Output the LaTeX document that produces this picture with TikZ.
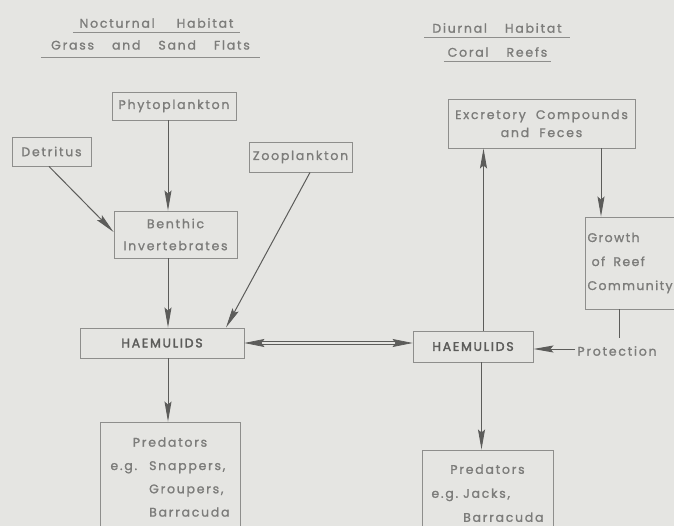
\documentclass[tikz,border=0pt]{standalone}
\usepackage{fontspec}
\setmainfont[LetterSpace=14,FakeBold=1.2]{Poppins}
\usepackage{tikz}
\usetikzlibrary{arrows.meta,calc,positioning}
\definecolor{paper}{HTML}{E5E5E2}
\definecolor{ink}{HTML}{7C7C7A}
\definecolor{edge}{HTML}{8E8E8C}
\definecolor{wire}{HTML}{5C5C5A}
\newcommand{\wgap}{\hspace{18pt}}

\begin{document}
\begin{tikzpicture}[x=1pt,y=-1pt,
  box/.style={draw=edge,line width=0.9pt,align=center,inner sep=0pt,
              text=ink,font=\fontsize{12.5}{18}\selectfont},
  fish/.style={box,text=wire,font=\fontsize{12.5}{14}\selectfont\addfontfeature{FakeBold=2.2}},
  arr/.style={wire,line width=1pt,-{Stealth[length=20pt,width=7pt,inset=3pt]}},
  twin/.style={wire,line width=0.7pt,double=paper,double distance=2.6pt,
               {Stealth[length=20pt,width=8pt,inset=3pt]}-{Stealth[length=20pt,width=8pt,inset=3pt]}},
  head/.style={inner sep=0pt,text=ink,font=\fontsize{12.5}{14}\selectfont},
  uline/.style={edge,line width=1pt}]
  \clip (0,0) rectangle (674,526);
  \fill[paper] (0,0) rectangle (674,526);
  % headings
  \node[head,minimum width=167,minimum height=18] (hn1) at (156.5,23) {Nocturnal\hspace{22pt}Habitat};
  \node[head,minimum width=219,minimum height=24] (hn2) at (150.5,45) {Grass\wgap and\wgap Sand\wgap Flats};
  \node[head,minimum width=145,minimum height=18] (hd1) at (497,28) {Diurnal\wgap Habitat};
  \node[head,minimum width=107,minimum height=18] (hd2) at (497.5,52) {Coral\wgap Reefs};
  \draw[uline] (hn1.south west) -- (hn1.south east);
  \draw[uline] (hn2.south west) -- (hn2.south east);
  \draw[uline] (hd1.south west) -- (hd1.south east);
  \draw[uline] (hd2.south west) -- (hd2.south east);
  % nocturnal side
  \node[box,minimum width=124,minimum height=28] (phyto) at (174,106) {Phytoplankton};
  \node[box,minimum width=79,minimum height=29] (detritus) at (51.5,151.5) {Detritus};
  \node[box,minimum width=103,minimum height=30] (zoo) at (300.5,157) {Zooplankton};
  \node[box,minimum width=123,minimum height=47,font=\fontsize{12.5}{22}\selectfont]
    (benthic) at (175.5,234.5) {Benthic\\Invertebrates};
  \node[fish,minimum width=164,minimum height=30] (haemL) at (162,343) {HAEMULIDS};
  \node[box,minimum width=140,minimum height=110,font=\fontsize{12.5}{23.3}\selectfont]
    (predL) at (170,477) {\begin{tabular}{@{}l@{\hspace{12pt}}l@{}}
      \multicolumn{2}{c}{Predators}\\ e.g. & Snappers,\\ & Groupers,\\ & Barracuda
    \end{tabular}};
  % diurnal side
  \node[box,minimum width=187,minimum height=49] (excr) at (541.5,123.5)
    {Excretory\ \ Compounds\\and\ \ Feces};
  \node[box,text width=100,inner xsep=2,minimum height=92,align=left,
        font=\fontsize{12.5}{24}\selectfont\addfontfeature{LetterSpace=11}]
    (growth) at (637.5,263) {Growth\\\ of\ \ Reef\\Community};
  \node[fish,minimum width=120,minimum height=31] (haemR) at (473,346.5) {HAEMULIDS};
  \node[box,minimum width=131,minimum height=86,font=\fontsize{12.5}{24}\selectfont]
    (predR) at (487.5,493) {\begin{tabular}{@{}l@{\hspace{5pt}}l@{}}
      \multicolumn{2}{c}{Predators}\\ e.g. & Jacks,\\ & Barracuda
    \end{tabular}};
  \node[head] (prot) at (617,351) {Protection};
  \coordinate (gend) at (619,338);
  % connectors
  \draw[arr] ([xshift=-2.5]detritus.south) -- ([yshift=2.5]benthic.west);
  \draw[arr] ([xshift=-6]phyto.south) -- ([xshift=-6]phyto.south |- benthic.north);
  \draw[arr] ([xshift=-7.5]benthic.south) -- ([xshift=-7.5]benthic.south |- haemL.north);
  \draw[arr] ([xshift=9.5]zoo.south) -- ([xshift=64]haemL.north);
  \draw[arr] ([xshift=6]haemL.south) -- ([xshift=6]haemL.south |- predL.north);
  \draw[twin] (haemL.east) -- (haemL.east -| haemR.west);
  \draw[arr] ([xshift=10.5]haemR.north) -- ([xshift=10.5]haemR.north |- excr.south);
  \draw[arr] ([xshift=59.5]excr.south) -- ([xshift=59.5]excr.south |- growth.north);
  \draw[wire,line width=1pt] (growth.south -| gend) -- (gend);
  \draw[arr] ([xshift=-2,yshift=2]prot.west) -- ([yshift=2]prot.west -| haemR.east);
  \draw[arr] ([xshift=8.5]haemR.south) -- ([xshift=8.5]haemR.south |- predR.north);
\end{tikzpicture}
\end{document}
